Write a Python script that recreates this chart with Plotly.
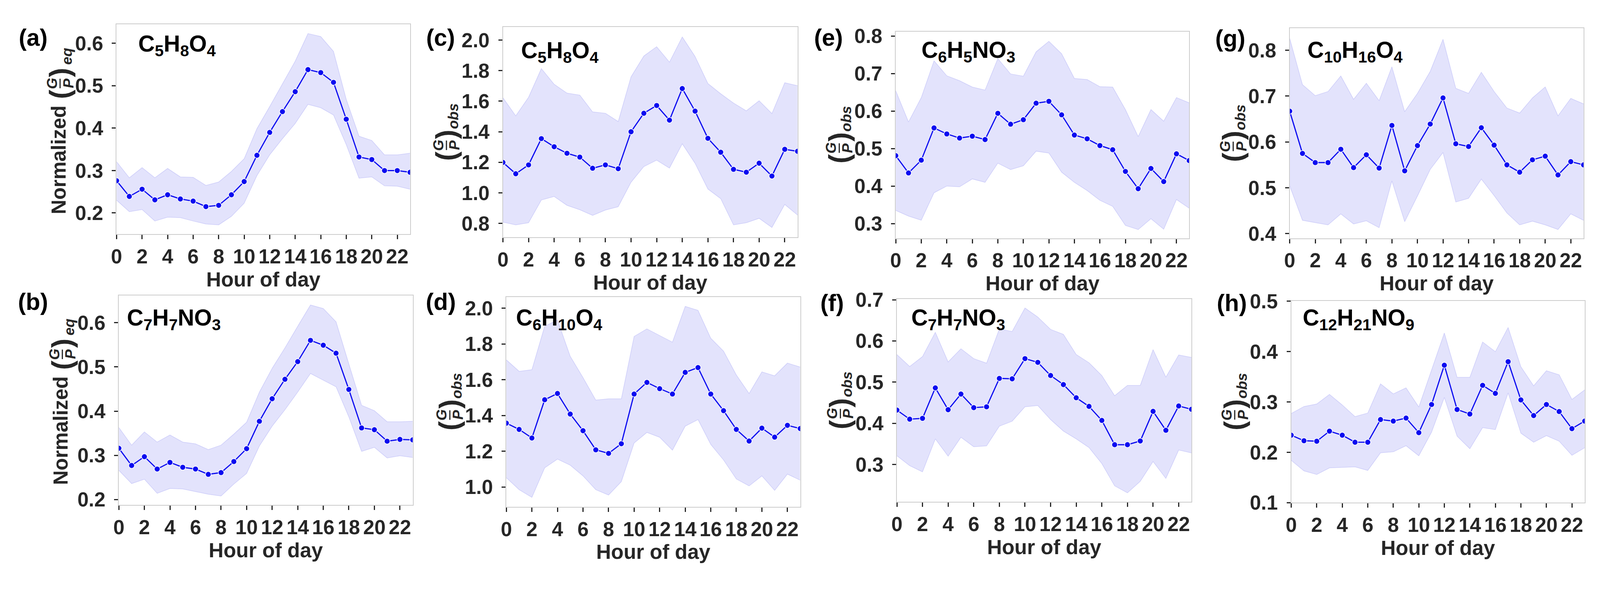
import plotly.graph_objects as go

# The page is shown with an effective viewport ~2.6% narrower than 4204 px and the
# body keeps an 8px margin, so the whole design (in reference pixels) is scaled by S.
REF_W, REF_H = 4204, 1520
S = 0.974
OFF = 8
W = int(REF_W * S) - 2 * OFF - 4
H = int(REF_H * S) - 2 * OFF - 4

hours = list(range(24))
xtick_vals = list(range(0, 24, 2))

# ---------------- data ----------------
a_mean = [0.276, 0.239, 0.256, 0.231, 0.243, 0.233, 0.228, 0.215, 0.218, 0.243, 0.274, 0.336,
          0.390, 0.439, 0.486, 0.538, 0.531, 0.508, 0.421, 0.332, 0.326, 0.300, 0.300, 0.296]
a_upper = [0.321, 0.283, 0.307, 0.283, 0.305, 0.285, 0.284, 0.265, 0.273, 0.298, 0.328, 0.399,
           0.451, 0.505, 0.558, 0.623, 0.616, 0.581, 0.468, 0.381, 0.371, 0.337, 0.337, 0.341]
a_lower = [0.230, 0.203, 0.208, 0.181, 0.190, 0.189, 0.181, 0.174, 0.172, 0.192, 0.223, 0.288,
           0.337, 0.375, 0.411, 0.456, 0.448, 0.431, 0.361, 0.282, 0.285, 0.264, 0.263, 0.256]

b_mean = [0.316, 0.277, 0.297, 0.269, 0.284, 0.273, 0.269, 0.257, 0.261, 0.286, 0.315, 0.377,
          0.428, 0.472, 0.512, 0.560, 0.549, 0.531, 0.449, 0.362, 0.358, 0.332, 0.336, 0.335]
b_upper = [0.363, 0.323, 0.353, 0.330, 0.346, 0.330, 0.326, 0.313, 0.323, 0.348, 0.375, 0.443,
           0.497, 0.543, 0.592, 0.640, 0.632, 0.602, 0.507, 0.413, 0.401, 0.376, 0.376, 0.377]
b_lower = [0.266, 0.236, 0.246, 0.214, 0.225, 0.224, 0.218, 0.212, 0.208, 0.235, 0.259, 0.321,
           0.366, 0.403, 0.443, 0.485, 0.470, 0.455, 0.387, 0.309, 0.318, 0.294, 0.299, 0.295]

c_mean = [1.199, 1.125, 1.183, 1.355, 1.302, 1.259, 1.234, 1.161, 1.183, 1.158, 1.400, 1.521,
          1.572, 1.476, 1.683, 1.535, 1.357, 1.266, 1.154, 1.135, 1.194, 1.110, 1.285, 1.272]
c_upper = [1.623, 1.504, 1.626, 1.814, 1.711, 1.653, 1.640, 1.530, 1.521, 1.467, 1.760, 1.896,
           1.957, 1.856, 2.021, 1.893, 1.716, 1.649, 1.588, 1.537, 1.603, 1.519, 1.721, 1.702]
c_lower = [0.808, 0.790, 0.804, 0.953, 0.976, 0.918, 0.889, 0.852, 0.887, 0.909, 1.069, 1.172,
           1.214, 1.162, 1.321, 1.193, 1.025, 0.962, 0.790, 0.804, 0.833, 0.773, 0.924, 0.854]

d_mean = [1.357, 1.322, 1.274, 1.488, 1.523, 1.408, 1.315, 1.208, 1.188, 1.242, 1.520, 1.585,
          1.550, 1.520, 1.641, 1.668, 1.520, 1.427, 1.322, 1.257, 1.329, 1.279, 1.345, 1.327]
d_upper = [1.711, 1.647, 1.656, 1.899, 1.934, 1.731, 1.612, 1.486, 1.493, 1.493, 1.842, 1.884,
           1.847, 1.810, 2.010, 1.988, 1.832, 1.760, 1.627, 1.523, 1.644, 1.622, 1.693, 1.671]
d_lower = [1.052, 0.985, 0.942, 1.107, 1.156, 1.122, 1.062, 0.985, 0.955, 1.030, 1.246, 1.305,
           1.278, 1.206, 1.340, 1.377, 1.238, 1.151, 1.045, 1.006, 1.062, 0.981, 1.072, 1.038]

e_mean = [0.481, 0.435, 0.469, 0.555, 0.539, 0.528, 0.533, 0.524, 0.594, 0.565, 0.577, 0.621,
          0.626, 0.590, 0.536, 0.526, 0.508, 0.497, 0.439, 0.393, 0.447, 0.412, 0.486, 0.468]
e_upper = [0.654, 0.571, 0.636, 0.734, 0.694, 0.681, 0.664, 0.656, 0.740, 0.699, 0.693, 0.758,
           0.786, 0.753, 0.687, 0.684, 0.665, 0.664, 0.604, 0.532, 0.604, 0.573, 0.636, 0.622]
e_lower = [0.335, 0.320, 0.309, 0.382, 0.400, 0.398, 0.419, 0.410, 0.461, 0.444, 0.454, 0.493,
           0.488, 0.437, 0.410, 0.388, 0.362, 0.346, 0.295, 0.284, 0.313, 0.285, 0.364, 0.341]

f_mean = [0.432, 0.410, 0.412, 0.486, 0.433, 0.471, 0.438, 0.440, 0.509, 0.508, 0.557, 0.548,
          0.516, 0.494, 0.462, 0.441, 0.407, 0.348, 0.348, 0.357, 0.429, 0.383, 0.442, 0.434]
f_upper = [0.567, 0.538, 0.562, 0.621, 0.549, 0.581, 0.557, 0.546, 0.629, 0.623, 0.680, 0.658,
           0.628, 0.616, 0.567, 0.547, 0.516, 0.467, 0.492, 0.492, 0.579, 0.512, 0.566, 0.560]
f_lower = [0.321, 0.297, 0.282, 0.362, 0.320, 0.366, 0.343, 0.345, 0.393, 0.405, 0.440, 0.443,
           0.409, 0.381, 0.362, 0.341, 0.302, 0.248, 0.231, 0.259, 0.307, 0.266, 0.335, 0.328]

g_mean = [0.667, 0.575, 0.555, 0.555, 0.584, 0.544, 0.572, 0.543, 0.636, 0.537, 0.592, 0.639,
          0.696, 0.596, 0.590, 0.631, 0.593, 0.550, 0.534, 0.561, 0.569, 0.528, 0.557, 0.550]
g_upper = [0.826, 0.725, 0.701, 0.710, 0.744, 0.693, 0.728, 0.690, 0.764, 0.666, 0.706, 0.754,
           0.824, 0.717, 0.706, 0.752, 0.710, 0.674, 0.663, 0.696, 0.720, 0.657, 0.695, 0.683]
g_lower = [0.504, 0.429, 0.424, 0.419, 0.443, 0.421, 0.428, 0.413, 0.515, 0.426, 0.482, 0.540,
           0.577, 0.469, 0.477, 0.519, 0.483, 0.445, 0.419, 0.427, 0.419, 0.409, 0.443, 0.429]

h_mean = [0.234, 0.223, 0.222, 0.242, 0.234, 0.220, 0.220, 0.265, 0.262, 0.268, 0.239, 0.295,
          0.373, 0.285, 0.276, 0.333, 0.317, 0.380, 0.304, 0.273, 0.295, 0.281, 0.247, 0.262]
h_upper = [0.277, 0.291, 0.296, 0.315, 0.294, 0.271, 0.278, 0.336, 0.316, 0.328, 0.290, 0.363,
           0.437, 0.349, 0.349, 0.419, 0.400, 0.448, 0.370, 0.332, 0.362, 0.354, 0.305, 0.324]
h_lower = [0.184, 0.163, 0.156, 0.169, 0.170, 0.171, 0.164, 0.199, 0.201, 0.213, 0.193, 0.240,
           0.309, 0.232, 0.207, 0.249, 0.245, 0.318, 0.238, 0.220, 0.233, 0.222, 0.194, 0.209]

compounds = {
    "a": "C<sub>5</sub>H<sub>8</sub>O<sub>4</sub>",
    "b": "C<sub>7</sub>H<sub>7</sub>NO<sub>3</sub>",
    "c": "C<sub>5</sub>H<sub>8</sub>O<sub>4</sub>",
    "d": "C<sub>6</sub>H<sub>10</sub>O<sub>4</sub>",
    "e": "C<sub>6</sub>H<sub>5</sub>NO<sub>3</sub>",
    "f": "C<sub>7</sub>H<sub>7</sub>NO<sub>3</sub>",
    "g": "C<sub>10</sub>H<sub>16</sub>O<sub>4</sub>",
    "h": "C<sub>12</sub>H<sub>21</sub>NO<sub>9</sub>",
}
x_title = "Hour of day"
eq_prefix = "Normalized"
frac_num, frac_den = "G", "P"
eq_sub, obs_sub = "eq", "obs"

series = {
    "a": (a_mean, a_upper, a_lower), "b": (b_mean, b_upper, b_lower),
    "c": (c_mean, c_upper, c_lower), "d": (d_mean, d_upper, d_lower),
    "e": (e_mean, e_upper, e_lower), "f": (f_mean, f_upper, f_lower),
    "g": (g_mean, g_upper, g_lower), "h": (h_mean, h_upper, h_lower),
}

# ---------------- layout geometry (reference pixels) ----------------
panels = {
    "a": dict(box=(293, 1067, 36, 610), yr=(0.15, 0.645), dt=0.1, kind="eq", cpos=(348, 100), lpos=(73, 72)),
    "c": dict(box=(1312, 2089, 44, 618), yr=(0.71, 2.085), dt=0.2, kind="obs", cpos=(1358, 118), lpos=(1148, 72)),
    "e": dict(box=(2348, 3122, 56, 621), yr=(0.261, 0.812), dt=0.1, kind="obs", cpos=(2414, 117), lpos=(2171, 72)),
    "g": dict(box=(3387, 4162, 47, 621), yr=(0.39, 0.848), dt=0.1, kind="obs", cpos=(3432, 117), lpos=(3230, 74)),
    "b": dict(box=(299, 1074, 777, 1350), yr=(0.188, 0.662), dt=0.1, kind="eq", cpos=(318, 849), lpos=(73, 795)),
    "d": dict(box=(1321, 2096, 782, 1355), yr=(0.89, 2.062), dt=0.2, kind="obs", cpos=(1344, 849), lpos=(1148, 795)),
    "f": dict(box=(2351, 3128, 787, 1342), yr=(0.209, 0.702), dt=0.1, kind="obs", cpos=(2387, 849), lpos=(2180, 798)),
    "h": dict(box=(3391, 4165, 792, 1344), yr=(0.1, 0.501), dt=0.1, kind="obs", cpos=(3419, 849), lpos=(3234, 798)),
}

FONT = "Liberation Sans"
TXT = "#262626"
LINE_BLUE = "#0a0af0"
BAND_FILL = "rgba(0,0,230,0.11)"
BAND_EDGE = "rgba(90,90,235,0.22)"


def px(x):
    return (x * S - OFF) / W


def py(y):
    return 1 - (y * S - OFF) / H


def fs(v):
    return v * S


def rot_text(text, x, y, size, italic=False):
    return dict(text=text, xref="paper", yref="paper", x=px(x), y=py(y), xanchor="center",
                yanchor="middle", textangle=-90, showarrow=False,
                font=dict(family=FONT, size=fs(size), color=TXT, weight="bold",
                          style="italic" if italic else "normal"))


fig = go.Figure()
annotations = []
shapes = []
layout_axes = {}

for i, key in enumerate(["a", "c", "e", "g", "b", "d", "f", "h"]):
    n = i + 1
    xa = "x" if n == 1 else f"x{n}"
    ya = "y" if n == 1 else f"y{n}"
    p = panels[key]
    mean, upper, lower = series[key]
    left, right, top, bottom = p["box"]

    fig.add_trace(go.Scatter(x=hours, y=upper, mode="lines", line=dict(color=BAND_EDGE, width=1.5),
                             xaxis=xa, yaxis=ya, showlegend=False, hoverinfo="skip"))
    fig.add_trace(go.Scatter(x=hours, y=lower, mode="lines", line=dict(color=BAND_EDGE, width=1.5),
                             fill="tonexty", fillcolor=BAND_FILL,
                             xaxis=xa, yaxis=ya, showlegend=False, hoverinfo="skip"))
    fig.add_trace(go.Scatter(x=hours, y=mean, mode="lines+markers",
                             line=dict(color=LINE_BLUE, width=fs(3)),
                             marker=dict(color=LINE_BLUE, size=fs(15), line=dict(color="white", width=1.5)),
                             xaxis=xa, yaxis=ya, showlegend=False))

    axis_common = dict(showgrid=False, zeroline=False, showline=True, linecolor="#cccccc", linewidth=2,
                       mirror=True, ticks="outside", tickcolor=TXT, tickwidth=3,
                       tickfont=dict(family=FONT, size=fs(53), color=TXT, weight="bold"))
    layout_axes[f"xaxis{'' if n == 1 else n}"] = dict(
        domain=[px(left), px(right)], anchor=ya, range=[0, 23], tickvals=xtick_vals, ticklen=round(fs(11)),
        title=dict(text=x_title, standoff=2, font=dict(family=FONT, size=fs(54), color=TXT, weight="bold")),
        **axis_common)
    layout_axes[f"yaxis{'' if n == 1 else n}"] = dict(
        domain=[py(bottom), py(top)], anchor=xa, range=list(p["yr"]), dtick=p["dt"],
        tickformat=".1f", ticklen=round(fs(10)), ticklabelstandoff=round(fs(12)), **axis_common)

    # ---- y-axis title built from pieces: [Normalized] ( G / P ) sub ----
    pc = left - 150
    yc = (top + bottom) / 2
    if p["kind"] == "eq":
        annotations.append(rot_text(eq_prefix, pc - 3, yc + 84, 53))
        fy, sy, sub = yc - 125, yc - 199, eq_sub
    else:
        fy, sy, sub = yc + 36, yc - 44, obs_sub
    annotations.append(rot_text("(", pc, fy + 30, 74))
    annotations.append(rot_text(")", pc, fy - 30, 74))
    annotations.append(rot_text(frac_num, pc - 21, fy, 38, italic=True))
    annotations.append(rot_text(frac_den, pc + 22, fy, 38, italic=True))
    annotations.append(rot_text(sub, pc + 19, sy, 38, italic=True))
    shapes.append(dict(type="line", xref="paper", yref="paper", x0=px(pc + 1), x1=px(pc + 1),
                       y0=py(fy - 13), y1=py(fy + 13), line=dict(color=TXT, width=3)))

    # compound label
    annotations.append(dict(text=compounds[key], xref="paper", yref="paper", x=px(p["cpos"][0]),
                            y=py(p["cpos"][1] - 6), xanchor="left", yanchor="middle", showarrow=False,
                            font=dict(family=FONT, size=fs(60), color="black", weight="bold")))
    # panel label
    annotations.append(dict(text=f"({key})", xref="paper", yref="paper", x=px(p["lpos"][0]),
                            y=py(p["lpos"][1]), xanchor="center", yanchor="middle", showarrow=False,
                            font=dict(family=FONT, size=fs(62), color="black", weight="bold")))

fig.update_layout(width=W, height=H, margin=dict(l=0, r=0, t=0, b=0),
                  paper_bgcolor="white", plot_bgcolor="white",
                  annotations=annotations, shapes=shapes, **layout_axes)

fig.write_html("out.html")
